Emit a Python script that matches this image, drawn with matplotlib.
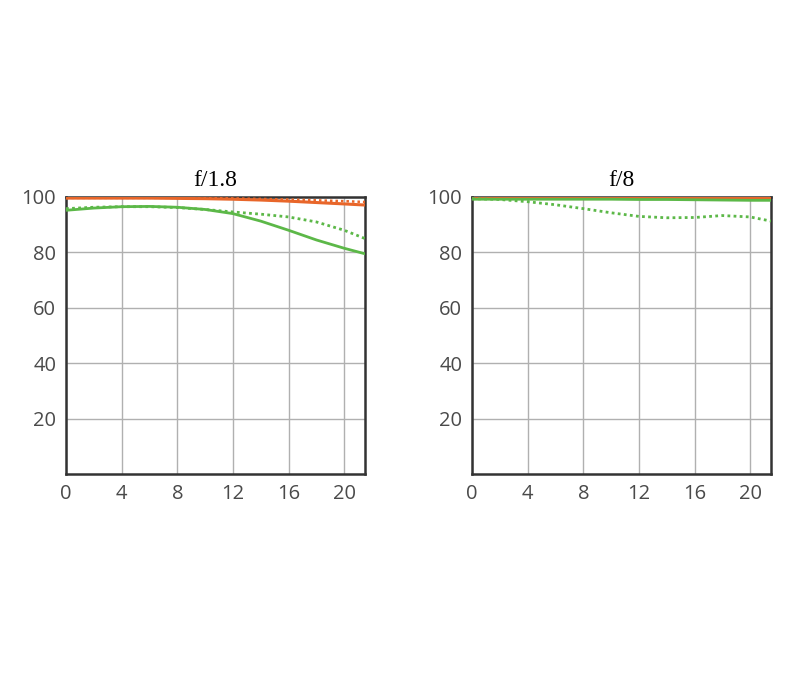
import matplotlib
matplotlib.use("Agg")
import matplotlib.pyplot as plt
import numpy as np

titles = ["f/1.8", "f/8"]
x = [0, 2, 4, 6, 8, 10, 12, 14, 16, 18, 20, 21.5]

# f/1.8
o_sol_1 = [99.6, 99.6, 99.6, 99.6, 99.5, 99.4, 99.2, 98.9, 98.5, 98.0, 97.5, 97.1]
o_dot_1 = [99.7, 99.7, 99.7, 99.7, 99.7, 99.6, 99.5, 99.3, 99.1, 98.8, 98.5, 98.2]
g_sol_1 = [95.2, 96.0, 96.5, 96.6, 96.3, 95.5, 94.0, 91.3, 88.0, 84.5, 81.5, 79.5]
g_dot_1 = [95.8, 96.3, 96.5, 96.5, 96.2, 95.5, 94.6, 93.8, 92.8, 91.0, 88.0, 85.0]

# f/8
o_sol_2 = [99.8, 99.8, 99.8, 99.8, 99.8, 99.8, 99.8, 99.8, 99.8, 99.8, 99.8, 99.8]
o_dot_2 = [99.6, 99.6, 99.6, 99.6, 99.6, 99.6, 99.6, 99.6, 99.6, 99.6, 99.6, 99.6]
g_sol_2 = [99.2, 99.2, 99.2, 99.2, 99.2, 99.2, 99.1, 99.1, 99.0, 98.9, 98.8, 98.8]
g_dot_2 = [99.4, 99.1, 98.3, 97.2, 95.8, 94.3, 93.0, 92.5, 92.6, 93.3, 92.8, 91.3]

xticks = [0, 4, 8, 12, 16, 20]
yticks = [20, 40, 60, 80, 100]

ORANGE = "#e8662a"
GREEN = "#5cb848"

fig = plt.figure(figsize=(8, 7), dpi=100)
lefts = [66 / 800, 472 / 800]
w = 299 / 800
b = 1 - 474 / 700
h = 277 / 700

datasets = [(o_sol_1, o_dot_1, g_sol_1, g_dot_1), (o_sol_2, o_dot_2, g_sol_2, g_dot_2)]

for i in range(2):
    ax = fig.add_axes([lefts[i], b, w, h])
    os_, od, gs, gd = datasets[i]
    ax.plot(x, od, color=ORANGE, lw=1.8, ls=(0, (1, 1.2)), zorder=3)
    ax.plot(x, os_, color=ORANGE, lw=2.2, zorder=3)
    ax.plot(x, gd, color=GREEN, lw=2.0, ls=(0, (1, 1.2)), zorder=3)
    ax.plot(x, gs, color=GREEN, lw=2.0, zorder=3)
    ax.set_xlim(0, 21.5)
    ax.set_ylim(0, 100)
    ax.set_xticks(xticks)
    ax.set_yticks(yticks)
    ax.grid(True, color="#b0b0b0", lw=1.0)
    ax.set_axisbelow(True)
    for s in ax.spines.values():
        s.set_color("#333333")
        s.set_linewidth(1.8)
    ax.tick_params(length=0, labelsize=14.5, labelcolor="#4a4a4a", pad=7)
    for lab in ax.get_xticklabels() + ax.get_yticklabels():
        lab.set_fontfamily("Open Sans")
    ax.set_title(titles[i], fontsize=17, fontfamily="Liberation Serif", pad=8)

fig.savefig("out.png", dpi=100, facecolor="white")
